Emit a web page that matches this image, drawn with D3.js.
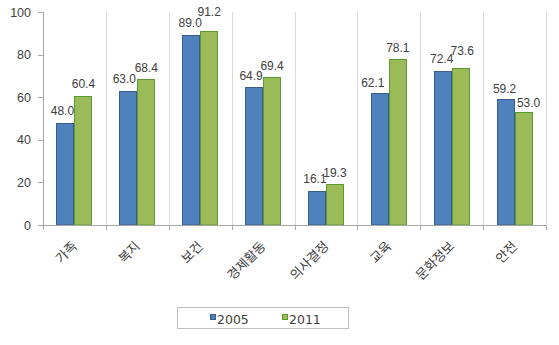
<!DOCTYPE html>
<html><head><meta charset="utf-8">
<script src="https://cdn.jsdelivr.net/npm/d3@7"></script>
<style>body{margin:0;background:#fff}svg{display:block}</style>
</head><body><svg id="c" width="559" height="345"></svg>
<script>
const categories = ["가족","복지","보건","경제활동","의사결정","교육","문화정보","안전"];
const seriesNames = ["2005","2011"];
const values2005 = [48.0,63.0,89.0,64.9,16.1,62.1,72.4,59.2];
const values2011 = [60.4,68.4,91.2,69.4,19.3,78.1,73.6,53.0];
const yTicks = [0,20,40,60,80,100];

// layout-only label nudges [dx, dy]
const nudge2005 = [[-3,-1],[-4,-1],[-1,-1],[-3,0],[-2,-1],[-7,1],[-1,-1],[-1,1]];
const nudge2011 = [[0,-1],[0,0],[0,-8],[0,0],[0,0],[0,0],[1.5,-6],[5,2]];

const fills = {"2005":"#4f81bd","2011":"#9bbb59"};
const strokes = {"2005":"#385d8a","2011":"#5a9a32"};
const seriesVals = {"2005":values2005,"2011":values2011};
const nudges = {"2005":nudge2005,"2011":nudge2011};

const svg = d3.select("#c");
const x = d3.scaleBand().domain(categories).range([43,546]).padding(0);
const y = d3.scaleLinear().domain([0,100]).range([225,12]);
const groupW = 36;
const xs = d3.scaleBand().domain(seriesNames).range([0,groupW]).padding(0);

// vertical gridlines at category boundaries
const bounds = categories.map(c=>x(c)).concat([x.range()[1]]);
svg.append("g").selectAll("line").data(bounds.slice(1)).join("line")
  .attr("x1",d=>Math.round(d)+0.5).attr("x2",d=>Math.round(d)+0.5)
  .attr("y1",y(100)).attr("y2",y(0))
  .attr("stroke","#d9d9d9").attr("stroke-width",1);

// bars
const gBars = svg.append("g");
seriesNames.forEach(s=>{
  gBars.selectAll(null).data(categories).join("rect")
    .attr("x",(c)=>Math.round(x(c)+(x.bandwidth()-groupW)/2+xs(s))+0.5)
    .attr("width",xs.bandwidth()-1)
    .attr("y",(c,i)=>Math.round(y(seriesVals[s][i]))+0.5)
    .attr("height",(c,i)=>y(0)-Math.round(y(seriesVals[s][i]))-0.5)
    .attr("fill",fills[s]).attr("stroke",strokes[s]).attr("stroke-width",1);
});

// axes
const axisColor = "#a6a6a6";
svg.append("line").attr("x1",43.5).attr("x2",43.5).attr("y1",y(100)).attr("y2",y(0))
  .attr("stroke",axisColor);
svg.append("g").selectAll("line").data(yTicks).join("line")
  .attr("x1",38).attr("x2",43.5).attr("y1",d=>Math.round(y(d))+0.5).attr("y2",d=>Math.round(y(d))+0.5)
  .attr("stroke",axisColor);
svg.append("line").attr("x1",43).attr("x2",546.5).attr("y1",225.5).attr("y2",225.5)
  .attr("stroke",axisColor);
svg.append("g").selectAll("line").data(bounds).join("line")
  .attr("x1",d=>Math.round(d)+0.5).attr("x2",d=>Math.round(d)+0.5)
  .attr("y1",225.5).attr("y2",230)
  .attr("stroke",axisColor);

// y tick labels
svg.append("g").selectAll("text").data(yTicks).join("text")
  .attr("x",31).attr("y",d=>y(d)+4.5)
  .attr("text-anchor","end")
  .attr("font-family","'Liberation Sans', Arial, sans-serif")
  .attr("font-size","12.5px").attr("fill","#404040")
  .text(d=>d);

// x category labels
svg.append("g").selectAll("text").data(categories).join("text")
  .attr("transform",c=>`translate(${x(c)+x.bandwidth()/2+3.5},247) rotate(-45)`)
  .attr("text-anchor","end")
  .attr("font-family","'Noto Sans CJK KR', sans-serif")
  .attr("font-size","13px").attr("fill","#404040")
  .text(c=>c);

// data labels
const gLab = svg.append("g");
seriesNames.forEach(s=>{
  gLab.selectAll(null).data(categories).join("text")
    .attr("x",(c,i)=>x(c)+(x.bandwidth()-groupW)/2+xs(s)+xs.bandwidth()/2+nudges[s][i][0])
    .attr("y",(c,i)=>y(seriesVals[s][i])-7+nudges[s][i][1])
    .attr("text-anchor","middle")
    .attr("font-family","'Liberation Sans', Arial, sans-serif")
    .attr("font-size","12px").attr("fill","#404040")
    .text((c,i)=>seriesVals[s][i].toFixed(1));
});

// legend
const lg = svg.append("g");
lg.append("rect").attr("x",177.5).attr("y",307.5).attr("width",171).attr("height",21)
  .attr("fill","#fff").attr("stroke","#bfbfbf");
const legX = {"2005":210,"2011":282};
seriesNames.forEach(s=>{
  lg.append("rect").attr("x",legX[s]+0.5).attr("y",314.5).attr("width",5).attr("height",5)
    .attr("fill",fills[s]).attr("stroke",strokes[s]);
  lg.append("text").attr("x",legX[s]+7).attr("y",323.5)
    .attr("font-family","'DejaVu Sans', sans-serif")
    .attr("font-size","12.5px").attr("fill","#404040").text(s);
});
</script>
</body></html>
